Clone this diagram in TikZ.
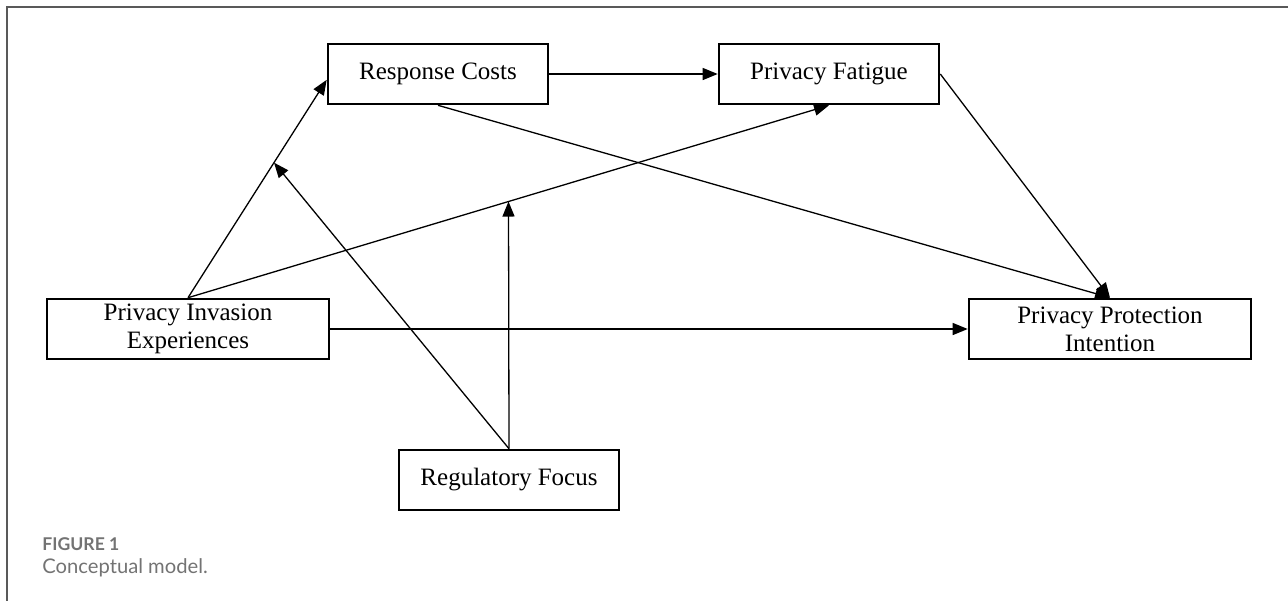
\documentclass[tikz,border=0pt]{standalone}
\usepackage{fontspec}
\setmainfont{Liberation Serif}
\newfontfamily\capfont{Lato}
\usetikzlibrary{arrows.meta}

\begin{document}
\begin{tikzpicture}[x=0.5pt, y=-0.5pt,
    box/.style={draw, line width=1.3pt, minimum width=110pt, minimum height=30pt, align=center, inner sep=2pt, font=\fontsize{12.5}{14}\selectfont},
    wide/.style={box, minimum width=141pt},
    link/.style={-{Triangle[length=7.5pt, width=6pt]}, line width=0.65pt},
    captext/.style={anchor=base west, inner sep=0pt, text=black!55}]
\useasboundingbox (0,0) rectangle (1288,601);
\draw[black!65, line width=1pt] (1288,7) -- (7,7) -- (7,601);

\node[box] (RC) at (438,74) {Response Costs};
\node[box] (PF) at (829,74) {Privacy Fatigue};
\node[wide] (PIE) at (188,329) {Privacy Invasion\\Experiences};
\node[wide] (PPI) at (1110,329) {Privacy Protection\\Intention};
\node[box] (RF) at (509,480) {Regulatory Focus};

% direct paths
\draw[link] (RC) -- (PF);
\draw[link] (PIE) -- (PPI);
\draw[link] (PIE.north) -- (RC.183);
\draw[link] (PIE.north) -- (PF.south);
\draw[link] (RC.south) -- (PPI.north);
\draw[link] (PF.east) -- (PPI.north);

% moderation
\path (PIE.north) -- coordinate[pos=0.62] (m1) (RC.183);
\path (PIE.north) -- coordinate[pos=0.5] (m2) (PF.south);
\draw[link] (RF.north) -- (m1);
\draw[link] (RF.north) -- (m2);

\node[captext, font=\capfont\fontsize{8.8}{10}\selectfont\bfseries] (fig) at (42,550) {FIGURE 1};
\node[captext, font=\capfont\fontsize{10.1}{12}\selectfont] (model) at (42,573) {Conceptual model.};
\end{tikzpicture}
\end{document}
